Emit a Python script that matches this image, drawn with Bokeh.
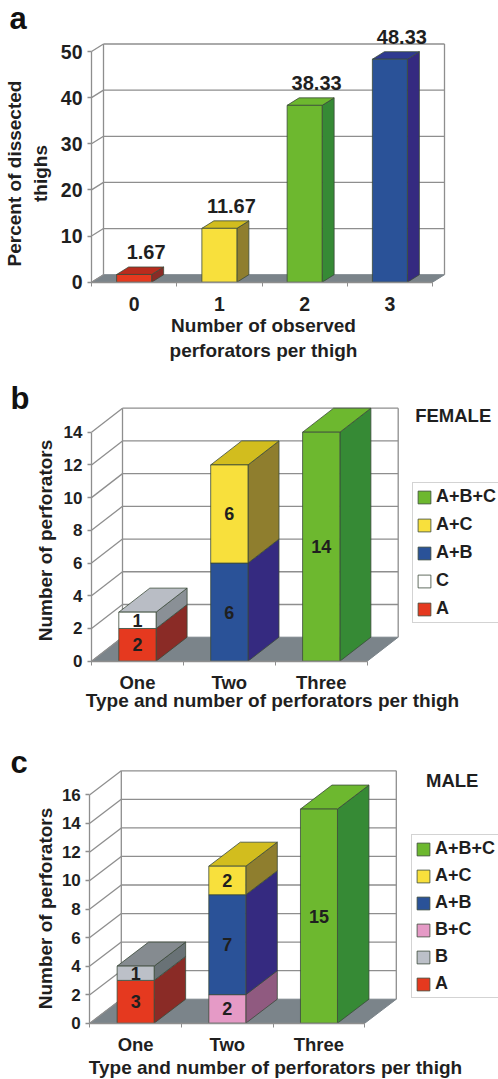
from bokeh.plotting import figure
from bokeh.layouts import column
from bokeh.models import LinearAxis, FixedTicker, Legend, LegendItem
from bokeh.core.properties import value
from bokeh.embed import file_html
from bokeh.resources import INLINE

FONT = "Liberation Sans"
INK = "#1f1f1f"
GRID = "#8e8e8e"
FLOOR = "#7b848a"
EDGE = "#3b4a3a"

# series styles: front, side, top
STYLE = {
    "red":    ("#e5391f", "#8a2b26", "#b92c1e"),
    "A":      ("#e5391f", "#8a2b26", "#b92c1e"),
    "yellow": ("#f8e03c", "#8f7e2e", "#d2bd1e"),
    "A+C":    ("#f8e03c", "#8f7e2e", "#d2bd1e"),
    "green":  ("#6db82f", "#368a35", "#6db82f"),
    "A+B+C":  ("#6db82f", "#368a35", "#6db82f"),
    "blue":   ("#2a5298", "#352a80", "#2f3a90"),
    "A+B":    ("#2a5298", "#352a80", "#2f3a90"),
    "C":      ("#ffffff", "#8a9096", "#b9bdc5"),
    "B":      ("#bcc0c8", "#697276", "#858b90"),
    "B+C":    ("#e59ac6", "#905a80", "#905a80"),
}

# ---- panel a
a_categories = ["0", "1", "2", "3"]
a_values = [1.67, 11.67, 38.33, 48.33]
a_labels = ["1.67", "11.67", "38.33", "48.33"]
a_series = ["red", "yellow", "green", "blue"]
a_ticks = [0, 10, 20, 30, 40, 50]

# ---- panel b
b_categories = ["One", "Two", "Three"]
b_stacks = [[("A", 2), ("C", 1)], [("A+B", 6), ("A+C", 6)], [("A+B+C", 14)]]
b_ticks = [0, 2, 4, 6, 8, 10, 12, 14]
b_legend = ["A+B+C", "A+C", "A+B", "C", "A"]

# ---- panel c
c_categories = ["One", "Two", "Three"]
c_stacks = [[("A", 3), ("B", 1)], [("B+C", 2), ("A+B", 7), ("A+C", 2)], [("A+B+C", 15)]]
c_ticks = [0, 2, 4, 6, 8, 10, 12, 14, 16]
c_legend = ["A+B+C", "A+C", "A+B", "B+C", "B", "A"]


def panel(cfg, categories, stacks, ticks, legend_names=None, value_labels=None):
    W = 498
    top, bottom = cfg["top"], cfg["bottom"]
    n = len(categories)
    vmax = ticks[-1]
    ux = (cfg["x1"] - cfg["x0"]) / n              # px per category
    uy = (cfg["y0"] - cfg["ytop"]) / vmax         # px per value unit
    fx = lambda px: (px - cfg["x0"]) / ux
    fy = lambda py: (cfg["y0"] - py) / uy
    dx = cfg["dx"] / ux
    dy = cfg["dy"] / uy
    bw = cfg["bar"] / ux

    p = figure(width=W, height=bottom - top, output_backend="svg", toolbar_location=None,
               x_range=(fx(0), fx(W)), y_range=(fy(bottom), fy(top)),
               min_border=0, min_border_left=0, min_border_right=0,
               min_border_top=0, min_border_bottom=0,
               x_axis_type=None, y_axis_type=None, outline_line_color=None,
               background_fill_color="white", border_fill_color="white")
    p.grid.visible = False

    # floor
    p.patch([0, n, n + dx, dx], [0, 0, dy, dy], fill_color=FLOOR, line_color=FLOOR)
    # walls and grid
    for v in ticks:
        p.line([0, dx], [v, v + dy], line_color=GRID, line_width=1.3)
        if v > 0:
            p.line([dx, n + dx], [v + dy, v + dy], line_color=GRID, line_width=1.3)
    p.line([dx, dx], [dy, vmax + dy], line_color=GRID, line_width=1.3)
    p.line([n + dx, n + dx], [dy, vmax + dy], line_color=GRID, line_width=1.3)

    # bars
    renderers = {}
    fronts = {}
    for i, stack in enumerate(stacks):
        cx = i + 0.5
        l, r = cx - bw / 2, cx + bw / 2
        base = 0
        for j, (name, val) in enumerate(stack):
            t = base + val
            front, side, topc = STYLE[name]
            p.patch([r, r + dx, r + dx, r], [base, base + dy, t + dy, t],
                    fill_color=side, line_color=EDGE, line_width=0.8)
            if j == len(stack) - 1:
                p.patch([l, r, r + dx, l + dx], [t, t, t + dy, t + dy],
                        fill_color=topc, line_color=EDGE, line_width=0.8)
            fronts.setdefault(name, []).append((l, r, base, t))
            base = t
    for name, segs in fronts.items():
        renderers[name] = p.quad(left=[s[0] for s in segs], right=[s[1] for s in segs],
                                 bottom=[s[2] for s in segs], top=[s[3] for s in segs],
                                 fill_color=STYLE[name][0], line_color=EDGE, line_width=0.8)

    # axes
    xa = LinearAxis(ticker=FixedTicker(ticks=[i + 0.5 for i in range(n)],
                                       minor_ticks=list(range(n + 1))),
                    major_label_overrides={i + 0.5: c for i, c in enumerate(categories)},
                    bounds=(0, n), fixed_location=0,
                    major_tick_line_color=None, major_tick_out=0, major_tick_in=0,
                    minor_tick_line_color=GRID, minor_tick_out=4, minor_tick_in=0,
                    axis_line_color=GRID, axis_line_width=1.3,
                    major_label_standoff=cfg["xstand"],
                    major_label_text_font=FONT, major_label_text_font_style="bold",
                    major_label_text_font_size=cfg["xfs"], major_label_text_color=INK)
    p.add_layout(xa, "below")
    ya = LinearAxis(ticker=FixedTicker(ticks=ticks), bounds=(0, vmax), fixed_location=0,
                    major_tick_line_color=GRID, major_tick_out=4, major_tick_in=0,
                    major_tick_line_width=1.3, minor_tick_line_color=None,
                    axis_line_color=GRID, axis_line_width=1.3, major_label_standoff=5,
                    major_label_text_font=FONT, major_label_text_font_style="bold",
                    major_label_text_font_size=cfg["yfs"], major_label_text_color=INK)
    p.add_layout(ya, "left")

    # axis titles, on axes of their own so they can sit off-centre
    cxl = fx(cfg["xlabel_cx"])
    xt = LinearAxis(ticker=FixedTicker(ticks=[]), bounds=(cxl - 1, cxl + 1), fixed_location=0,
                    axis_line_color=None, axis_label=cfg["xlabel"],
                    axis_label_standoff=cfg["xlabel_stand"], axis_label_text_font=FONT,
                    axis_label_text_font_style="bold", axis_label_text_font_size=cfg["labfs"],
                    axis_label_text_color=INK)
    p.add_layout(xt, "below")
    cyl = fy(cfg["ylabel_cy"])
    yt = LinearAxis(ticker=FixedTicker(ticks=[]), bounds=(cyl - 1, cyl + 1), fixed_location=0,
                    axis_line_color=None, axis_label=cfg["ylabel"],
                    axis_label_standoff=cfg["ylabel_stand"], axis_label_text_font=FONT,
                    axis_label_text_font_style="bold", axis_label_text_font_size=cfg["labfs"],
                    axis_label_text_color=INK)
    p.add_layout(yt, "left")

    # value labels
    if value_labels:
        xs = [i + 0.5 + dx for i in range(n)]
        ys = [sum(v for _, v in s) + dy for s in stacks]
        p.text(xs, ys, text=value_labels, text_font=value(FONT), text_font_style="bold",
               text_font_size="20px", text_color=INK, text_align="center",
               text_baseline="alphabetic", y_offset=-15)
    else:
        xs, ys, ts = [], [], []
        for i, s in enumerate(stacks):
            base = 0
            for _, v in s:
                xs.append(i + 0.5)
                ys.append(base + v / 2)
                ts.append(str(v))
                base += v
        p.text(xs, ys, text=ts, text_font=value(FONT), text_font_style="bold",
               text_font_size="18px", text_color=INK, text_align="center",
               text_baseline="middle")

    # panel letter
    p.text([fx(cfg["letter"][0])], [fy(cfg["letter"][1])], text=[cfg["letter"][2]],
           text_font=value(FONT), text_font_style="bold", text_font_size="31px",
           text_color="#111111", text_align="left", text_baseline="alphabetic")

    # heading and legend
    if legend_names:
        hx, hy, ht = cfg["heading"]
        p.text([fx(hx)], [fy(hy)], text=[ht], text_font=value(FONT), text_font_style="bold",
               text_font_size="18.5px", text_color=INK, text_align="center",
               text_baseline="middle")
        items = [LegendItem(label=nm, renderers=[renderers[nm]]) for nm in legend_names]
        leg = Legend(items=items, location=(cfg["legx"], bottom - cfg["legy"]),
                     padding=3, margin=0, spacing=cfg["legsp"], glyph_width=16, glyph_height=16,
                     label_standoff=4, label_text_font=FONT,
                     label_text_font_style="bold", label_text_font_size="18px",
                     label_text_color=INK, label_text_baseline="middle",
                     border_line_color="#a8a8a8", border_line_width=1.5,
                     background_fill_color="white", background_fill_alpha=1)
        p.add_layout(leg, "center")
    return p


cfg_a = dict(top=0, bottom=372, x0=91, x1=432, y0=281.7, ytop=51, dx=12, dy=7.5, bar=35,
             xstand=11, xfs="19.5px", yfs="19.5px", labfs="19px",
             xlabel="Number of observed\nperforators per thigh", xlabel_cx=263, xlabel_stand=32,
             ylabel="Percent of dissected\nthighs", ylabel_cy=173, ylabel_stand=41,
             letter=(9, 18, "a"))
cfg_b = dict(top=372, bottom=736, x0=91, x1=366.7, y0=660.7, ytop=431.7, dx=31, dy=24, bar=37.3,
             xstand=7, xfs="18.5px", yfs="17px", labfs="19px",
             xlabel="Type and number of perforators per thigh", xlabel_cx=272, xlabel_stand=28,
             ylabel="Number of perforators", ylabel_cy=540, ylabel_stand=36,
             letter=(10, 398, "b"), heading=(452.7, 415, "FEMALE"),
             legx=412, legy=623, legsp=7)
cfg_c = dict(top=736, bottom=1079, x0=89.3, x1=364.3, y0=1022.7, ytop=794.3, dx=31.5, dy=24, bar=37,
             xstand=7, xfs="18.5px", yfs="17px", labfs="19px",
             xlabel="Type and number of perforators per thigh", xlabel_cx=275, xlabel_stand=33,
             ylabel="Number of perforators", ylabel_cy=908, ylabel_stand=34,
             letter=(10, 762, "c"), heading=(451.7, 780, "MALE"),
             legx=411, legy=998, legsp=6)

a_stacks = [[(s, v)] for s, v in zip(a_series, a_values)]
p1 = panel(cfg_a, a_categories, a_stacks, a_ticks, value_labels=a_labels)
p2 = panel(cfg_b, b_categories, b_stacks, b_ticks, legend_names=b_legend)
p3 = panel(cfg_c, c_categories, c_stacks, c_ticks, legend_names=c_legend)

layout = column(p1, p2, p3, spacing=0)
open("out.html", "w").write(file_html(layout, INLINE))
